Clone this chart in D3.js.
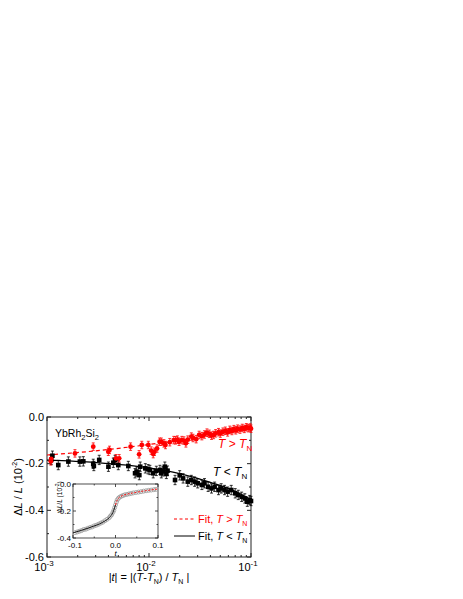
<!DOCTYPE html>
<html>
<head>
<meta charset="utf-8">
<script src="https://cdn.jsdelivr.net/npm/d3@7"></script>
<style>
  body { margin: 0; background: #fff; }
  svg { font-family: "Liberation Sans", Arial, sans-serif; }
</style>
</head>
<body>
<div id="chart"></div>
<script>
// main panel: |t| vs dL/L (10^-2)
const redT = [1.09e-3, 1.1e-3, 1.88e-3, 2.84e-3, 3.99e-3, 4.1e-3, 4.75e-3, 5.1e-3, 6.6e-3, 8.0e-3, 8.5e-3, 9.85e-3,
  1.05e-2, 1.1e-2, 1.13e-2, 1.2e-2, 1.27e-2, 1.32e-2, 1.4e-2, 1.45e-2, 1.6e-2, 1.75e-2, 1.82e-2, 1.9e-2, 1.97e-2,
  2.1e-2, 2.2e-2, 2.3e-2, 2.4e-2, 2.6e-2, 2.7e-2, 2.9e-2, 3.1e-2, 3.3e-2, 3.5e-2, 3.7e-2, 3.9e-2, 4.1e-2, 4.3e-2,
  4.5e-2, 4.8e-2, 5.0e-2, 5.3e-2, 5.6e-2, 5.9e-2, 6.2e-2, 6.5e-2, 6.8e-2, 7.1e-2, 7.4e-2, 7.8e-2, 8.2e-2, 8.6e-2,
  9.0e-2, 9.4e-2, 9.8e-2, 1.0e-1];
const redV = [-0.19, -0.18, -0.156, -0.127, -0.149, -0.141, -0.177, -0.177, -0.127, -0.16, -0.12, -0.12,
  -0.144, -0.159, -0.149, -0.135, -0.106, -0.106, -0.113, -0.12, -0.108, -0.099, -0.1, -0.097, -0.106,
  -0.099, -0.101, -0.113, -0.097, -0.084, -0.09, -0.095, -0.077, -0.082, -0.075, -0.067, -0.072, -0.08, -0.077,
  -0.07, -0.065, -0.071, -0.063, -0.059, -0.066, -0.055, -0.06, -0.052, -0.057, -0.05, -0.054, -0.047, -0.051,
  -0.044, -0.048, -0.045, -0.05];

const blackT = [1.1e-3, 1.13e-3, 1.29e-3, 1.62e-3, 2.1e-3, 2.27e-3, 2.84e-3, 2.88e-3, 3.25e-3, 4.0e-3, 4.47e-3,
  4.65e-3, 5.0e-3, 6.27e-3, 7.3e-3, 7.57e-3, 8.04e-3, 8.2e-3, 9.2e-3, 9.8e-3, 1.02e-2, 1.1e-2, 1.18e-2, 1.28e-2,
  1.32e-2, 1.37e-2, 1.43e-2, 1.48e-2, 1.52e-2, 1.8e-2, 2.0e-2, 2.16e-2, 2.4e-2, 2.6e-2, 2.8e-2, 3.0e-2, 3.3e-2,
  3.5e-2, 3.8e-2, 4.1e-2, 4.4e-2, 4.8e-2, 5.1e-2, 5.5e-2, 5.9e-2, 6.4e-2, 7.0e-2, 7.5e-2, 8.1e-2, 8.7e-2, 9.2e-2,
  9.7e-2, 1.0e-1];
const blackV = [-0.184, -0.166, -0.206, -0.191, -0.191, -0.19, -0.201, -0.21, -0.184, -0.213, -0.196,
  -0.184, -0.206, -0.21, -0.241, -0.234, -0.249, -0.213, -0.22, -0.224, -0.227, -0.241, -0.231, -0.227,
  -0.241, -0.233, -0.213, -0.244, -0.23, -0.27, -0.25, -0.263, -0.277, -0.27, -0.277, -0.284, -0.291,
  -0.284, -0.299, -0.306, -0.299, -0.313, -0.306, -0.313, -0.32, -0.313, -0.327, -0.334, -0.342, -0.349, -0.363,
  -0.356, -0.36];

const redErr = 0.016, blackErr = 0.02;

// fit curves
const fitRedT = [1e-3, 3e-3, 1e-2, 2e-2, 4e-2, 1e-1];
const fitRedV = [-0.163, -0.145, -0.118, -0.1, -0.08, -0.05];
const fitBlackT = [1e-3, 3e-3, 1e-2, 2e-2, 4e-2, 7e-2, 1e-1];
const fitBlackV = [-0.185, -0.195, -0.218, -0.243, -0.28, -0.318, -0.355];

// inset: t vs dL/L
const insetT = [-0.095, -0.09, -0.085, -0.08, -0.075, -0.07, -0.065, -0.06, -0.055, -0.05, -0.045, -0.04, -0.035,
  -0.03, -0.025, -0.02, -0.015, -0.012, -0.009, -0.006, -0.004, -0.002, 0.0, 0.002, 0.004, 0.007, 0.01, 0.014,
  0.018, 0.022, 0.027, 0.032, 0.037, 0.042, 0.048, 0.054, 0.06, 0.066, 0.072, 0.078, 0.084, 0.09, 0.095];
const insetV = [-0.36, -0.355, -0.35, -0.345, -0.337, -0.335, -0.328, -0.322, -0.318, -0.31, -0.305, -0.298, -0.29,
  -0.283, -0.272, -0.262, -0.25, -0.238, -0.228, -0.21, -0.195, -0.175, -0.155, -0.135, -0.118, -0.105, -0.097, -0.09,
  -0.085, -0.08, -0.077, -0.073, -0.07, -0.066, -0.063, -0.06, -0.057, -0.053, -0.05, -0.047, -0.045, -0.042, -0.04];
const insetFitBlackT = [-0.1, -0.06, -0.03, -0.015, -0.006, 0];
const insetFitBlackV = [-0.362, -0.322, -0.283, -0.25, -0.21, -0.155];
const insetFitRedT = [0, 0.004, 0.01, 0.02, 0.04, 0.07, 0.1];
const insetFitRedV = [-0.155, -0.118, -0.097, -0.082, -0.067, -0.05, -0.037];

const yTicks = [0, -0.2, -0.4, -0.6];
const xDecades = [-3, -2, -1];
const insetXTicks = [-0.1, 0, 0.1];
const insetYTicks = [0, -0.2, -0.4];

const W = 463, H = 599;
const svg = d3.select('#chart').append('svg').attr('width', W).attr('height', H);

const plot = { left: 47, right: 251, top: 417, bottom: 557 };

const x = d3.scaleLog().domain([1e-3, 1e-1]).range([plot.left, plot.right]);
const y = d3.scaleLinear().domain([0, -0.6]).range([plot.top, plot.bottom]);

const fmt = d => (d < 0 ? '-' : '') + Math.abs(d).toFixed(1);

// frame
svg.append('rect')
   .attr('x', plot.left).attr('y', plot.top)
   .attr('width', plot.right - plot.left).attr('height', plot.bottom - plot.top)
   .attr('fill', 'none').attr('stroke', '#222').attr('stroke-width', 1);

const majorX = xDecades.map(e => Math.pow(10, e));
const minorX = x.ticks().filter(v => !majorX.some(m => Math.abs(m - v) / m < 1e-6));
const minorY = d3.range(0, 7).map(i => -i * 0.1).filter(v => !yTicks.some(t => Math.abs(t - v) < 1e-6));

function ticksX(g, scale, vals, len, y0, y1) {
  vals.forEach(v => {
    g.append('line').attr('x1', scale(v)).attr('x2', scale(v)).attr('y1', y0).attr('y2', y0 - len);
    g.append('line').attr('x1', scale(v)).attr('x2', scale(v)).attr('y1', y1).attr('y2', y1 + len);
  });
}
function ticksY(g, scale, vals, len, x0, x1) {
  vals.forEach(v => {
    g.append('line').attr('y1', scale(v)).attr('y2', scale(v)).attr('x1', x0).attr('x2', x0 + len);
    g.append('line').attr('y1', scale(v)).attr('y2', scale(v)).attr('x1', x1).attr('x2', x1 - len);
  });
}

const axes = svg.append('g').attr('stroke', '#222');
ticksX(axes, x, majorX, 4, plot.bottom, plot.top);
ticksX(axes, x, minorX, 2, plot.bottom, plot.top);
ticksY(axes, y, yTicks, 4, plot.left, plot.right);
ticksY(axes, y, minorY, 2, plot.left, plot.right);

// y tick labels
svg.append('g').selectAll('text')
   .data(yTicks).enter().append('text')
   .attr('x', plot.left - 3).attr('y', d => y(d) + 3.5)
   .attr('text-anchor', 'end').attr('font-size', 11)
   .text(fmt);

// x tick labels: 10^n
const xl = svg.append('g').selectAll('text')
   .data(xDecades).enter().append('text')
   .attr('x', d => x(Math.pow(10, d)) - 3).attr('y', plot.bottom + 13.5)
   .attr('text-anchor', 'middle').attr('font-size', 11);
xl.append('tspan').text('10');
xl.append('tspan').attr('dy', -5).attr('font-size', 8).text(d => '-' + Math.abs(d));

// axis titles
const xt = svg.append('text').attr('x', 149).attr('y', 581).attr('text-anchor', 'middle').attr('font-size', 11);
xt.append('tspan').text('|');
xt.append('tspan').attr('font-style', 'italic').text('t');
xt.append('tspan').text('| = |(');
xt.append('tspan').attr('font-style', 'italic').text('T');
xt.append('tspan').text('-');
xt.append('tspan').attr('font-style', 'italic').text('T');
xt.append('tspan').attr('dy', 3).attr('font-size', 7).text('N');
xt.append('tspan').attr('dy', -3).text(') / ');
xt.append('tspan').attr('font-style', 'italic').text('T');
xt.append('tspan').attr('dy', 3).attr('font-size', 7).text('N');
xt.append('tspan').attr('dy', -3).text(' |');

const yt = svg.append('text').attr('transform', 'translate(22,' + ((plot.top + plot.bottom) / 2) + ') rotate(-90)')
   .attr('text-anchor', 'middle').attr('font-size', 11);
yt.append('tspan').text('Δ');
yt.append('tspan').attr('font-style', 'italic').text('L');
yt.append('tspan').text(' / ');
yt.append('tspan').attr('font-style', 'italic').text('L');
yt.append('tspan').text(' (10');
yt.append('tspan').attr('dy', -5).attr('font-size', 7).text('-2');
yt.append('tspan').attr('dy', 5).text(')');

// data layer
const redData = redT.map((t, i) => ({ t: t, v: redV[i] }));
const blackData = blackT.map((t, i) => ({ t: t, v: blackV[i] }));

const line = d3.line().x(d => x(d[0])).y(d => y(d[1])).curve(d3.curveMonotoneX);

svg.append('path').datum(fitBlackT.map((t, i) => [t, fitBlackV[i]]))
   .attr('d', line).attr('fill', 'none').attr('stroke', '#000').attr('stroke-width', 1.2);
svg.append('path').datum(fitRedT.map((t, i) => [t, fitRedV[i]]))
   .attr('d', line).attr('fill', 'none').attr('stroke', '#ff0000').attr('stroke-width', 1.2)
   .attr('stroke-dasharray', '4,3');

function errBars(data, err, color) {
  const g = svg.append('g').attr('stroke', color).attr('stroke-width', 0.8);
  data.forEach(d => {
    const cx = x(d.t);
    g.append('line').attr('x1', cx).attr('x2', cx).attr('y1', y(d.v - err)).attr('y2', y(d.v + err));
    g.append('line').attr('x1', cx - 1.5).attr('x2', cx + 1.5).attr('y1', y(d.v - err)).attr('y2', y(d.v - err));
    g.append('line').attr('x1', cx - 1.5).attr('x2', cx + 1.5).attr('y1', y(d.v + err)).attr('y2', y(d.v + err));
  });
}
errBars(blackData, blackErr, '#000');
errBars(redData, redErr, '#ff0000');

svg.append('g').selectAll('rect')
   .data(blackData).enter().append('rect')
   .attr('x', d => x(d.t) - 2.3).attr('y', d => y(d.v) - 2.3)
   .attr('width', 4.6).attr('height', 4.6).attr('fill', '#000');

svg.append('g').selectAll('circle')
   .data(redData).enter().append('circle')
   .attr('cx', d => x(d.t)).attr('cy', d => y(d.v)).attr('r', 2.4).attr('fill', '#ff0000');

// labels
svg.append('text').attr('x', 55).attr('y', 437).attr('font-size', 10.5)
   .html('YbRh<tspan dy="3" font-size="7.5">2</tspan><tspan dy="-3">Si</tspan><tspan dy="3" font-size="7.5">2</tspan>');

function tLabel(xp, yp, sym, color) {
  const t = svg.append('text').attr('x', xp).attr('y', yp).attr('font-size', 12).attr('fill', color);
  t.append('tspan').attr('font-style', 'italic').text('T');
  t.append('tspan').text(' ' + sym + ' ');
  t.append('tspan').attr('font-style', 'italic').text('T');
  t.append('tspan').attr('dy', 3).attr('font-size', 8).text('N');
  return t;
}
tLabel(218, 448, '>', '#ff0000');
tLabel(213, 476, '<', '#000');

// legend
svg.append('line').attr('x1', 174).attr('x2', 194).attr('y1', 519).attr('y2', 519)
   .attr('stroke', '#ff0000').attr('stroke-width', 1).attr('stroke-dasharray', '3,2.5');
svg.append('line').attr('x1', 174).attr('x2', 195).attr('y1', 536).attr('y2', 536)
   .attr('stroke', '#000').attr('stroke-width', 1);
function legText(xp, yp, sym, color) {
  const t = svg.append('text').attr('x', xp).attr('y', yp).attr('font-size', 11).attr('fill', color);
  t.append('tspan').text('Fit, ');
  t.append('tspan').attr('font-style', 'italic').text('T');
  t.append('tspan').text(' ' + sym + ' ');
  t.append('tspan').attr('font-style', 'italic').text('T');
  t.append('tspan').attr('dy', 3).attr('font-size', 7).text('N');
}
legText(198, 523, '>', '#ff0000');
legText(198, 540, '<', '#000');

// inset
const inset = { left: 73, right: 158, top: 484, bottom: 538 };
const xi = d3.scaleLinear().domain([-0.1, 0.1]).range([inset.left, inset.right]);
const yi = d3.scaleLinear().domain([0, -0.4]).range([inset.top, inset.bottom]);

svg.append('rect')
   .attr('x', inset.left).attr('y', inset.top)
   .attr('width', inset.right - inset.left).attr('height', inset.bottom - inset.top)
   .attr('fill', '#fff').attr('stroke', '#222').attr('stroke-width', 0.8);

const ia = svg.append('g').attr('stroke', '#222').attr('stroke-width', 0.8);
ticksX(ia, xi, insetXTicks, 3, inset.bottom, inset.top);
ticksX(ia, xi, [-0.05, 0.05], 1.5, inset.bottom, inset.top);
ticksY(ia, yi, insetYTicks, 3, inset.left, inset.right);
ticksY(ia, yi, [-0.1, -0.3], 1.5, inset.left, inset.right);

svg.append('g').selectAll('text')
   .data(insetYTicks).enter().append('text')
   .attr('x', inset.left - 2).attr('y', d => yi(d) + 2.5)
   .attr('text-anchor', 'end').attr('font-size', 8)
   .text(fmt);
svg.append('g').selectAll('text')
   .data(insetXTicks).enter().append('text')
   .attr('x', d => xi(d) + (d < 0 ? 2 : 0)).attr('y', inset.bottom + 9.5)
   .attr('text-anchor', 'middle').attr('font-size', 8)
   .text(fmt);
svg.append('text').attr('x', (inset.left + inset.right) / 2).attr('y', inset.bottom + 18)
   .attr('text-anchor', 'middle').attr('font-size', 8).attr('font-style', 'italic').text('t');
svg.append('text').attr('transform', 'translate(62,497) rotate(-90)')
   .attr('text-anchor', 'middle').attr('font-size', 6.5)
   .html('Δ<tspan font-style="italic">L</tspan>/<tspan font-style="italic">L</tspan> (10<tspan dy="-3" font-size="5">-2</tspan><tspan dy="3">)</tspan>');

const lineI = d3.line().x(d => xi(d[0])).y(d => yi(d[1])).curve(d3.curveMonotoneX);

svg.append('g').selectAll('circle')
   .data(insetT.map((t, i) => [t, insetV[i]])).enter().append('circle')
   .attr('cx', d => xi(d[0])).attr('cy', d => yi(d[1])).attr('r', 2)
   .attr('fill', 'none').attr('stroke', '#999').attr('stroke-width', 0.8);

svg.append('path').datum(insetFitBlackT.map((t, i) => [t, insetFitBlackV[i]]))
   .attr('d', lineI).attr('fill', 'none').attr('stroke', '#000').attr('stroke-width', 0.9);
svg.append('path').datum(insetFitRedT.map((t, i) => [t, insetFitRedV[i]]))
   .attr('d', lineI).attr('fill', 'none').attr('stroke', '#ff0000').attr('stroke-width', 0.9)
   .attr('stroke-dasharray', '2,1.5');
</script>
</body>
</html>
